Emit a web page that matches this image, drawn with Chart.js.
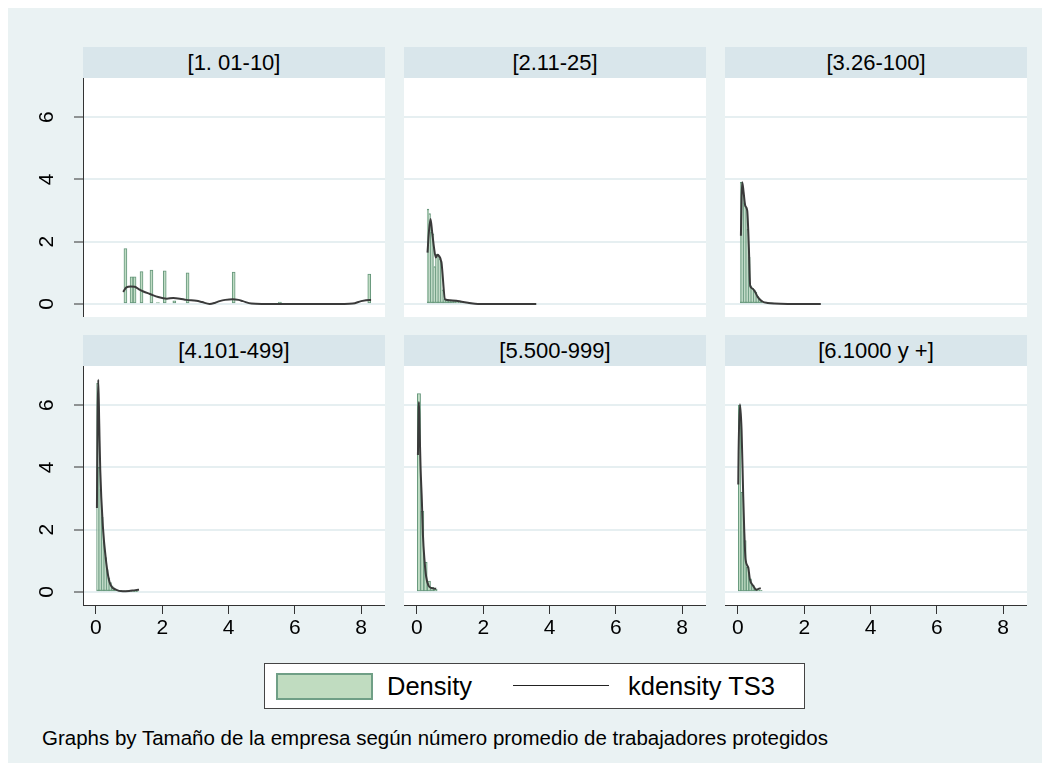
<!DOCTYPE html>
<html>
<head>
<meta charset="utf-8">
<script src="https://cdn.jsdelivr.net/npm/chart.js@4.4.1/dist/chart.umd.min.js"></script>
<style>
  html, body { margin:0; padding:0; background:#ffffff; width:1050px; height:771px; overflow:hidden; }
  body { position:relative; font-family:"Liberation Sans", Arial, sans-serif; }
  #frame { position:absolute; left:8px; top:8px; width:1034px; height:755px; background:#eaf2f3; }
  .hdr { position:absolute; height:31px; width:302px; background:#d9e6eb; font-size:22px; line-height:31px; text-align:center; color:#000; }
  canvas.pc { position:absolute; }
  #legend { position:absolute; left:264px; top:663px; width:541px; height:46px; background:#fff; border:1px solid #444; box-sizing:border-box; }
  #legend .sw { position:absolute; left:11px; top:9px; width:97px; height:27px; box-sizing:border-box; background:#c0dcc0; border:2px solid #6f9f86; }
  #legend .tx { position:absolute; top:0; height:44px; line-height:44px; font-size:25.5px; color:#000; white-space:nowrap; }
  #legend .ln { position:absolute; left:248px; top:21px; width:96px; height:0; border-top:1.5px solid #222; }
  #caption { position:absolute; left:42px; top:726px; font-size:20.5px; line-height:24px; color:#000; white-space:nowrap; }
</style>
</head>
<body>
<div id="frame"></div>

<div class="hdr" id="h1" style="left:83px;top:47px;"></div>
<div class="hdr" id="h2" style="left:404px;top:47px;"></div>
<div class="hdr" id="h3" style="left:725px;top:47px;"></div>
<div class="hdr" id="h4" style="left:83px;top:335px;"></div>
<div class="hdr" id="h5" style="left:404px;top:335px;"></div>
<div class="hdr" id="h6" style="left:725px;top:335px;"></div>

<canvas class="pc" id="c1" width="355" height="239" style="left:30px;top:78px;"></canvas>
<canvas class="pc" id="c2" width="302" height="239" style="left:404px;top:78px;"></canvas>
<canvas class="pc" id="c3" width="302" height="239" style="left:725px;top:78px;"></canvas>
<canvas class="pc" id="c4" width="355" height="279" style="left:30px;top:366px;"></canvas>
<canvas class="pc" id="c5" width="302" height="279" style="left:404px;top:366px;"></canvas>
<canvas class="pc" id="c6" width="302" height="279" style="left:725px;top:366px;"></canvas>

<div id="legend">
  <div class="sw"></div>
  <div class="tx" id="lgBar" style="left:122px;"></div>
  <div class="ln"></div>
  <div class="tx" id="lgLine" style="left:363px;"></div>
</div>
<div id="caption"></div>

<script>
// ---------------- DATA ----------------
const panelTitles = ["[1. 01-10]", "[2.11-25]", "[3.26-100]", "[4.101-499]", "[5.500-999]", "[6.1000 y +]"];
const legendLabels = ["Density", "kdensity TS3"];
const captionText = "Graphs by Tamaño de la empresa según número promedio de trabajadores protegidos";
const xTicks = [0, 2, 4, 6, 8];
const yTicks = [0, 2, 4, 6];

// Panel 1: [1. 01-10]
const p1BarX = [0.89, 1.075, 1.165, 1.375, 1.675, 1.87, 2.075, 2.365, 2.765, 4.155, 5.55, 8.245];
const p1BarH = [1.78, 0.87, 0.87, 1.04, 1.09, 0.04, 1.06, 0.10, 1.00, 1.02, 0.06, 0.96];
const p1LineX = [0.82, 0.92, 1.05, 1.17, 1.30, 1.43, 1.63, 1.88, 2.14, 2.33, 2.53, 2.73, 3.03, 3.20, 3.43, 3.60, 3.73, 3.90, 4.13, 4.30, 4.43, 4.69, 5.00, 5.54, 6.50, 7.50, 7.75, 8.00, 8.25, 8.30];
const p1LineY = [0.39, 0.53, 0.56, 0.55, 0.47, 0.40, 0.32, 0.22, 0.17, 0.19, 0.17, 0.13, 0.10, 0.06, 0.00, 0.04, 0.09, 0.13, 0.15, 0.13, 0.09, 0.01, 0.00, 0.00, 0.00, 0.00, 0.01, 0.09, 0.13, 0.13];

// Panel 2: [2.11-25]
const p2BarX = [0.335, 0.385, 0.435, 0.485, 0.535, 0.585, 0.635, 0.685, 0.735, 0.785, 0.835, 0.885, 0.935, 0.985, 1.035, 1.085, 1.135, 1.185, 1.235, 1.285, 1.335, 1.385, 1.435, 1.485, 1.535, 1.585, 1.635];
const p2BarH = [3.05, 2.90, 2.30, 2.25, 1.20, 1.60, 1.58, 1.45, 1.38, 0.45, 0.15, 0.13, 0.12, 0.11, 0.11, 0.10, 0.09, 0.08, 0.07, 0.06, 0.05, 0.05, 0.04, 0.03, 0.03, 0.02, 0.02];
const p2LineX = [0.32, 0.36, 0.41, 0.46, 0.51, 0.57, 0.62, 0.66, 0.74, 0.85, 1.00, 1.19, 1.35, 1.54, 1.84, 2.50, 3.60];
const p2LineY = [1.65, 2.30, 2.73, 2.30, 1.85, 1.49, 1.58, 1.55, 1.33, 0.15, 0.12, 0.10, 0.07, 0.04, 0.00, 0.00, 0.00];

// Panel 3: [3.26-100]
const p3BarX = [0.095, 0.145, 0.195, 0.245, 0.295, 0.345, 0.395, 0.445, 0.495, 0.545, 0.595, 0.645, 0.695, 0.745, 0.795, 0.845, 0.895, 0.945, 0.995, 1.045];
const p3BarH = [3.91, 3.70, 3.25, 3.10, 2.40, 1.50, 0.58, 0.50, 0.45, 0.38, 0.25, 0.17, 0.10, 0.07, 0.05, 0.04, 0.03, 0.02, 0.02, 0.01];
const p3LineX = [0.09, 0.11, 0.13, 0.17, 0.22, 0.28, 0.33, 0.37, 0.43, 0.50, 0.60, 0.75, 0.90, 1.10, 1.50, 2.50];
const p3LineY = [2.19, 3.40, 3.91, 3.60, 3.16, 3.00, 1.82, 0.58, 0.50, 0.42, 0.22, 0.07, 0.03, 0.01, 0.00, 0.00];

// Panel 4: [4.101-499]
const p4BarX = [0.045, 0.095, 0.145, 0.195, 0.245, 0.295, 0.345, 0.395, 0.445, 0.495, 0.545, 0.595, 0.645, 0.695, 0.745, 0.795, 0.845, 0.895, 0.945, 0.995, 1.045, 1.095, 1.145, 1.195, 1.245];
const p4BarH = [6.70, 4.00, 3.30, 2.40, 1.60, 1.10, 0.72, 0.45, 0.30, 0.20, 0.13, 0.09, 0.07, 0.05, 0.05, 0.04, 0.03, 0.03, 0.02, 0.02, 0.02, 0.02, 0.01, 0.01, 0.01];
const p4LineX = [0.03, 0.05, 0.07, 0.10, 0.13, 0.21, 0.31, 0.41, 0.61, 0.81, 1.00, 1.15, 1.30];
const p4LineY = [2.70, 5.60, 6.82, 5.40, 3.93, 2.10, 0.95, 0.32, 0.07, 0.02, 0.03, 0.05, 0.07];

// Panel 5: [5.500-999]
const p5BarX = [0.06, 0.16, 0.26, 0.36, 0.46, 0.56];
const p5BarH = [6.37, 2.60, 0.95, 0.35, 0.15, 0.08];
const p5LineX = [0.03, 0.05, 0.06, 0.08, 0.11, 0.15, 0.18, 0.23, 0.28, 0.35, 0.43, 0.58];
const p5LineY = [4.40, 5.80, 6.10, 5.26, 4.00, 2.90, 1.85, 1.00, 0.48, 0.20, 0.13, 0.10];

// Panel 6: [6.1000 y +]
const p6BarX = [0.05, 0.13, 0.21, 0.29, 0.37, 0.45, 0.53, 0.61, 0.69];
const p6BarH = [6.00, 3.20, 1.65, 0.80, 0.42, 0.22, 0.10, 0.07, 0.05];
const p6LineX = [0.01, 0.02, 0.06, 0.11, 0.16, 0.19, 0.23, 0.31, 0.36, 0.46, 0.56, 0.62, 0.69];
const p6LineY = [3.45, 4.50, 6.03, 5.20, 3.07, 2.00, 1.05, 0.79, 0.41, 0.20, 0.07, 0.10, 0.12];

// ---------------- STYLE ----------------
const FONT = '"Liberation Sans", Arial, sans-serif';
const X_MIN = -0.39, X_MAX = 8.72;
const Y_MIN = -0.42, Y_MAX = 7.26;
const BAR_FILL = 'rgb(192,220,196)';
const BAR_EDGE = 'rgb(100,150,122)';
const LINE_COLOR = '#3a3a3a';
const GRID_COLOR = '#e6eff1';
const AXIS_COLOR = '#333333';
const TICK_SIZE = 21;

// text
panelTitles.forEach((t, i) => { document.getElementById('h' + (i + 1)).textContent = t; });
document.getElementById('lgBar').textContent = legendLabels[0];
document.getElementById('lgLine').textContent = legendLabels[1];
document.getElementById('caption').textContent = captionText;

function xScale(show) {
  const base = {
    type: 'linear', min: X_MIN, max: X_MAX, offset: false,
    afterBuildTicks: s => { s.ticks = xTicks.map(v => ({ value: v })); }
  };
  if (!show) return Object.assign(base, { display: false });
  return Object.assign(base, {
    display: true,
    afterFit: s => { s.height = 40; s.paddingLeft = 0; s.paddingRight = 0; },
    border: { display: true, color: AXIS_COLOR, width: 1 },
    grid: { offset: false, drawOnChartArea: false, drawTicks: true, tickLength: 9, tickColor: AXIS_COLOR, tickWidth: 1 },
    ticks: { font: { family: FONT, size: TICK_SIZE }, color: '#000', padding: 2, maxRotation: 0, minRotation: 0, autoSkip: false }
  });
}

function yScale(show) {
  const base = {
    type: 'linear', min: Y_MIN, max: Y_MAX,
    afterBuildTicks: s => { s.ticks = yTicks.map(v => ({ value: v })); }
  };
  if (!show) {
    return Object.assign(base, {
      display: true,
      afterFit: s => { s.width = 0; s.paddingTop = 0; s.paddingBottom = 0; },
      border: { display: false },
      grid: { color: GRID_COLOR, lineWidth: 2, drawTicks: false },
      ticks: { display: false }
    });
  }
  return Object.assign(base, {
    display: true,
    afterFit: s => { s.width = 53; s.paddingTop = 0; s.paddingBottom = 0; },
    border: { display: true, color: AXIS_COLOR, width: 1 },
    grid: { color: GRID_COLOR, lineWidth: 2, drawTicks: true, tickLength: 9, tickColor: AXIS_COLOR, tickWidth: 1 },
    ticks: { font: { family: FONT, size: TICK_SIZE }, color: '#000', padding: 21, minRotation: 90, maxRotation: 90, crossAlign: 'center', autoSkip: false }
  });
}

function panel(id, bx, bh, lx, ly, leftAxis, bottomAxis) {
  return new Chart(document.getElementById(id), {
    type: 'bar',
    data: {
      datasets: [
        {
          type: 'line', label: legendLabels[1],
          data: lx.map((x, i) => ({ x: x, y: ly[i] })),
          borderColor: LINE_COLOR, borderWidth: 2, pointRadius: 0,
          cubicInterpolationMode: 'monotone', fill: false, order: 0
        },
        {
          type: 'bar', label: legendLabels[0],
          data: bx.map((x, i) => ({ x: x, y: bh[i] })),
          backgroundColor: BAR_FILL, borderColor: BAR_EDGE, borderWidth: 1,
          borderSkipped: false, barPercentage: 1, categoryPercentage: 1, order: 1
        }
      ]
    },
    options: {
      responsive: false, animation: false, devicePixelRatio: 1,
      layout: { padding: 0 },
      plugins: { legend: { display: false }, tooltip: { enabled: false }, title: { display: false } },
      scales: { x: xScale(bottomAxis), y: yScale(leftAxis) }
    },
    plugins: [{
      id: 'whiteArea',
      beforeDraw(chart) {
        const a = chart.chartArea, c = chart.ctx;
        c.save(); c.fillStyle = '#ffffff'; c.fillRect(a.left, a.top, a.right - a.left, a.bottom - a.top); c.restore();
      }
    }]
  });
}

panel('c1', p1BarX, p1BarH, p1LineX, p1LineY, true, false);
panel('c2', p2BarX, p2BarH, p2LineX, p2LineY, false, false);
panel('c3', p3BarX, p3BarH, p3LineX, p3LineY, false, false);
panel('c4', p4BarX, p4BarH, p4LineX, p4LineY, true, true);
panel('c5', p5BarX, p5BarH, p5LineX, p5LineY, false, true);
panel('c6', p6BarX, p6BarH, p6LineX, p6LineY, false, true);
</script>
</body>
</html>
